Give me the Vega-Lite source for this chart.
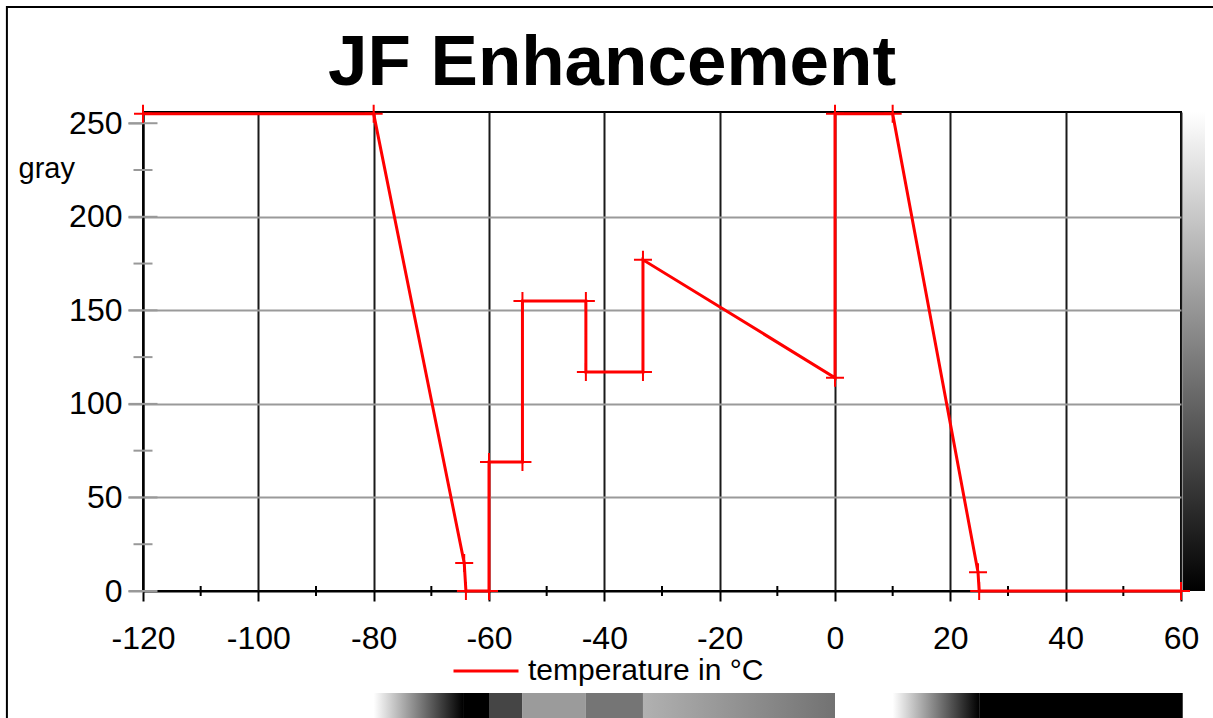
{
  "$schema": "https://vega.github.io/schema/vega-lite/v6.json",
  "width": 1038,
  "height": 479,
  "autosize": {"type": "none"},
  "padding": {"left": 143, "top": 112, "right": 32, "bottom": 127},
  "background": "white",
  "title": {"text": "JF Enhancement", "font": "Liberation Sans", "fontSize": 71, "fontWeight": "bold", "color": "#000", "anchor": "middle", "frame": "group", "baseline": "alphabetic", "offset": 27, "dx": -50, "dy": 177},
  "config": {"view": {"stroke": "#000", "strokeWidth": 2}},
  "datasets": {
    "curve": [
      {"i": 0, "t": -120, "g": 255},
      {"i": 1, "t": -80, "g": 255},
      {"i": 2, "t": -64.3, "g": 15},
      {"i": 3, "t": -64, "g": 0},
      {"i": 4, "t": -60, "g": 0},
      {"i": 5, "t": -60, "g": 69},
      {"i": 6, "t": -54.2, "g": 69},
      {"i": 7, "t": -54.2, "g": 155},
      {"i": 8, "t": -43.2, "g": 155},
      {"i": 9, "t": -43.2, "g": 117},
      {"i": 10, "t": -33.3, "g": 117},
      {"i": 11, "t": -33.3, "g": 177},
      {"i": 12, "t": 0, "g": 114},
      {"i": 13, "t": 0, "g": 255},
      {"i": 14, "t": 10, "g": 255},
      {"i": 15, "t": 24.8, "g": 10},
      {"i": 16, "t": 25, "g": 0},
      {"i": 17, "t": 60, "g": 0}
    ],
    "bars": [
      {"t0": -64.5, "t1": -60, "g": 0},
      {"t0": -60, "t1": -54.2, "g": 69},
      {"t0": -54.2, "t1": -43.2, "g": 155},
      {"t0": -43.2, "t1": -33.3, "g": 117},
      {"t0": 0, "t1": 10, "g": 255},
      {"t0": 25, "t1": 60.3, "g": 0}
    ],
    "xminor": [{"t": -110}, {"t": -90}, {"t": -70}, {"t": -50}, {"t": -30}, {"t": -10}, {"t": 10}, {"t": 30}, {"t": 50}],
    "ymajor": [{"g": 0}, {"g": 50}, {"g": 100}, {"g": 150}, {"g": 200}, {"g": 250}],
    "yminor": [{"g": 25}, {"g": 75}, {"g": 125}, {"g": 175}, {"g": 225}]
  },
  "layer": [
    {
      "data": {"name": "bars"},
      "mark": {"type": "rect"},
      "encoding": {
        "x": {"field": "t0", "type": "quantitative", "scale": {"domain": [-120, 60], "nice": false, "zero": false}, "title": null},
        "x2": {"field": "t1"},
        "y": {"datum": -54.5, "type": "quantitative", "scale": {"domain": [0, 256], "nice": false, "zero": false}, "title": "gray"},
        "y2": {"datum": -80},
        "fill": {"field": "g", "type": "quantitative", "scale": {"domain": [0, 255], "range": ["#000000", "#ffffff"], "interpolate": "rgb"}, "legend": null}
      }
    },
    {
      "data": {"values": [{"t0": -80, "t1": -64.5, "gStart": 255, "gEnd": 0}]},
      "mark": {"type": "rect", "fill": {"gradient": "linear", "x1": 0, "y1": 0, "x2": 1, "y2": 0, "stops": [{"offset": 0, "color": "#ffffff"}, {"offset": 1, "color": "#000000"}]}},
      "encoding": {
        "x": {"field": "t0", "type": "quantitative", "scale": {"domain": [-120, 60], "nice": false, "zero": false}, "title": null},
        "x2": {"field": "t1"},
        "y": {"datum": -54.5, "type": "quantitative", "scale": {"domain": [0, 256], "nice": false, "zero": false}, "title": "gray"},
        "y2": {"datum": -80}
      }
    },
    {
      "data": {"values": [{"t0": -33.3, "t1": 0, "gStart": 177, "gEnd": 114}]},
      "mark": {"type": "rect", "fill": {"gradient": "linear", "x1": 0, "y1": 0, "x2": 1, "y2": 0, "stops": [{"offset": 0, "color": "#b1b1b1"}, {"offset": 1, "color": "#727272"}]}},
      "encoding": {
        "x": {"field": "t0", "type": "quantitative", "scale": {"domain": [-120, 60], "nice": false, "zero": false}, "title": null},
        "x2": {"field": "t1"},
        "y": {"datum": -54.5, "type": "quantitative", "scale": {"domain": [0, 256], "nice": false, "zero": false}, "title": "gray"},
        "y2": {"datum": -80}
      }
    },
    {
      "data": {"values": [{"t0": 10, "t1": 25, "gStart": 255, "gEnd": 0}]},
      "mark": {"type": "rect", "fill": {"gradient": "linear", "x1": 0, "y1": 0, "x2": 1, "y2": 0, "stops": [{"offset": 0, "color": "#ffffff"}, {"offset": 1, "color": "#000000"}]}},
      "encoding": {
        "x": {"field": "t0", "type": "quantitative", "scale": {"domain": [-120, 60], "nice": false, "zero": false}, "title": null},
        "x2": {"field": "t1"},
        "y": {"datum": -54.5, "type": "quantitative", "scale": {"domain": [0, 256], "nice": false, "zero": false}, "title": "gray"},
        "y2": {"datum": -80}
      }
    },
    {
      "data": {"values": [{"gLow": 0, "gHigh": 256}]},
      "mark": {"type": "rect", "fill": {"gradient": "linear", "x1": 0, "y1": 0, "x2": 0, "y2": 1, "stops": [{"offset": 0, "color": "#ffffff"}, {"offset": 1, "color": "#000000"}]}},
      "encoding": {
        "x": {"datum": 60.35, "type": "quantitative", "scale": {"domain": [-120, 60], "nice": false, "zero": false}, "title": null},
        "x2": {"datum": 64.16},
        "y": {"field": "gLow", "type": "quantitative", "scale": {"domain": [0, 256], "nice": false, "zero": false}, "title": "gray"},
        "y2": {"field": "gHigh"}
      }
    },
    {
      "data": {"values": [{}]},
      "mark": {"type": "rect", "fill": "transparent", "stroke": "#000", "strokeWidth": 2},
      "encoding": {
        "x": {"datum": -143.6, "type": "quantitative", "scale": {"domain": [-120, 60], "nice": false, "zero": false}, "title": null},
        "x2": {"datum": 100},
        "y": {"datum": 312.1, "type": "quantitative", "scale": {"domain": [0, 256], "nice": false, "zero": false}, "title": "gray"},
        "y2": {"datum": -120}
      }
    },
    {
      "data": {"name": "xminor"},
      "mark": {"type": "tick", "orient": "vertical", "size": 10, "thickness": 2, "color": "#000", "opacity": 1},
      "encoding": {
        "x": {"field": "t", "type": "quantitative", "scale": {"domain": [-120, 60], "nice": false, "zero": false}, "title": null},
        "y": {"datum": 0, "type": "quantitative", "scale": {"domain": [0, 256], "nice": false, "zero": false}, "title": "gray"}
      }
    },
    {
      "data": {"name": "ymajor"},
      "mark": {"type": "tick", "orient": "horizontal", "size": 29, "thickness": 2, "color": "#999", "opacity": 1},
      "encoding": {
        "x": {"datum": -120, "type": "quantitative", "scale": {"domain": [-120, 60], "nice": false, "zero": false}, "title": null},
        "y": {"field": "g", "type": "quantitative", "scale": {"domain": [0, 256], "nice": false, "zero": false}, "title": "gray"}
      }
    },
    {
      "data": {"name": "yminor"},
      "mark": {"type": "tick", "orient": "horizontal", "size": 19, "thickness": 2, "color": "#999", "opacity": 1},
      "encoding": {
        "x": {"datum": -120, "type": "quantitative", "scale": {"domain": [-120, 60], "nice": false, "zero": false}, "title": null},
        "y": {"field": "g", "type": "quantitative", "scale": {"domain": [0, 256], "nice": false, "zero": false}, "title": "gray"}
      }
    },
    {
      "data": {"name": "curve"},
      "mark": {"type": "line", "strokeWidth": 3, "interpolate": "linear"},
      "encoding": {
        "x": {
          "field": "t", "type": "quantitative",
          "scale": {"domain": [-120, 60], "nice": false, "zero": false},
          "title": null,
          "axis": {
            "values": [-120, -100, -80, -60, -40, -20, 0, 20, 40, 60],
            "labelExpr": "(datum.value < 0 ? '-' : '') + abs(datum.value)",
            "grid": true, "gridColor": "#1a1a1a", "gridWidth": 2, "gridOpacity": 1,
            "domainColor": "#000", "domainWidth": 2,
            "tickColor": "#000", "tickWidth": 2, "tickSize": 10,
            "labelFont": "Liberation Sans", "labelFontSize": 32, "labelColor": "#000",
            "labelPadding": 22, "labelFlush": false, "labelOverlap": false,
            "title": null
          }
        },
        "y": {
          "field": "g", "type": "quantitative",
          "scale": {"domain": [0, 256], "nice": false, "zero": false},
          "title": "gray",
          "axis": {
            "values": [0, 50, 100, 150, 200, 250],
            "grid": true, "gridWidth": 2, "gridOpacity": 1,
            "gridColor": {"condition": {"test": "datum.value === 250 || datum.value === 0", "value": "transparent"}, "value": "#9a9a9a"},
            "domainColor": "#000", "domainWidth": 2,
            "tickColor": "#999", "tickWidth": 2, "tickSize": 15,
            "labelFont": "Liberation Sans", "labelFontSize": 32, "labelColor": "#000",
            "labelPadding": 6, "labelFlush": false, "labelOverlap": false,
            "title": "gray", "titleAngle": 0, "titleAlign": "left", "titleBaseline": "middle",
            "titleX": -125, "titleY": 56,
            "titleFont": "Liberation Sans", "titleFontSize": 29, "titleFontWeight": "normal", "titleColor": "#000"
          }
        },
        "order": {"field": "i", "type": "quantitative"},
        "color": {
          "datum": "temperature in °C",
          "scale": {"range": ["#ff0000"]},
          "legend": {
            "orient": "none", "legendX": 309, "legendY": 525,
            "title": null, "padding": 0,
            "symbolType": "stroke", "symbolSize": 4225, "symbolStrokeWidth": 3,
            "labelFont": "Liberation Sans", "labelFontSize": 30, "labelColor": "#000",
            "labelOffset": 8, "labelLimit": 0
          }
        }
      }
    },
    {
      "data": {"name": "curve"},
      "mark": {"type": "point", "shape": "M-1,0H1M0,-1V1", "size": 324, "filled": false, "stroke": "#ff0000", "strokeWidth": 2, "opacity": 1},
      "encoding": {
        "x": {"field": "t", "type": "quantitative", "scale": {"domain": [-120, 60], "nice": false, "zero": false}, "title": null},
        "y": {"field": "g", "type": "quantitative", "scale": {"domain": [0, 256], "nice": false, "zero": false}, "title": "gray"}
      }
    }
  ]
}
